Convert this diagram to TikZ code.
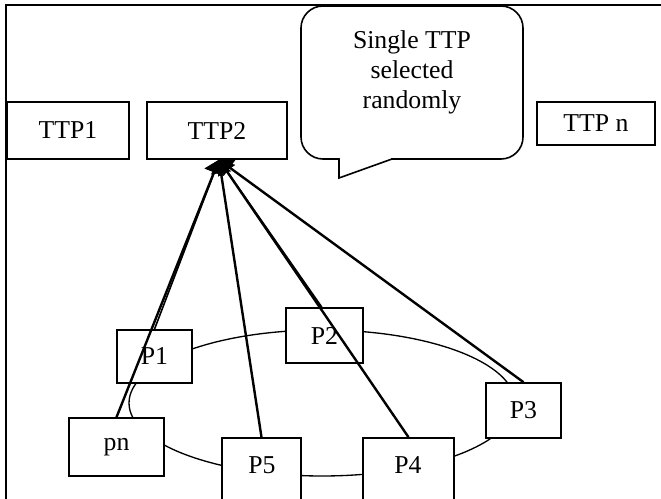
\documentclass[tikz,border=0pt]{standalone}
\usepackage{fontspec}
\setmainfont{Liberation Serif}
\usetikzlibrary{arrows.meta}
\begin{document}
\begin{tikzpicture}[x=0.75pt,y=-0.75pt,
  txt/.style={font=\fontsize{19.3}{22.5}\selectfont},
  box/.style={draw,line width=1.2pt,fill=white,inner sep=0pt,txt},
  lbl/.style={inner sep=0pt,txt},
  link/.style={line width=1.8pt,-{Triangle[length=10pt,width=15pt]}},
  ring/.style={line width=1pt}]
\useasboundingbox (0,0) rectangle (661,499);

% outer frame, running past the right and bottom edges
\draw[line width=1pt] (6,5) rectangle (700,540);

% trusted third parties
\node[box,minimum width=122*0.75pt,minimum height=57*0.75pt] (TTP1) at (68,130.5) {TTP1};
\node[box,minimum width=140*0.75pt,minimum height=57*0.75pt] (TTP2) at (217,130.5) {TTP2};
\node[box,minimum width=118*0.75pt,minimum height=43*0.75pt] (TTPn) at (596,123.5) {TTP n};

% speech bubble
\draw[line width=1.2pt,rounded corners=16.5pt] (301,6) rectangle (523,159);
\fill[white] (339,159) -- (339,178) -- (392,159) -- cycle;
\fill[white] (339.8,156.5) rectangle (391,161);
\draw[line width=1.2pt,line join=miter] (339,159) -- (339,178) -- (392,159);
\node[lbl,align=center] (note) at (412,72) {Single TTP\\selected\\randomly};

% ring of peers
\draw[ring] (322,403) ellipse [x radius=144.75pt, y radius=54.75pt];

\node[box,minimum width=75*0.75pt,minimum height=53*0.75pt] (P1) at (154.5,356.5) {P1};
\node[box,minimum width=77*0.75pt,minimum height=55*0.75pt] (P2) at (324.5,335.5) {P2};
\node[box,minimum width=75*0.75pt,minimum height=55*0.75pt] (P3) at (523.5,410.5) {P3};
\node[box,minimum width=95*0.75pt,minimum height=58*0.75pt] (pn) at (116.5,447) {pn};
\node[box,minimum width=79*0.75pt,minimum height=80*0.75pt] (P5) at (261.5,478) {};
\node[lbl] (P5t) at (262,465) {P5};
\node[box,minimum width=91*0.75pt,minimum height=80*0.75pt] (P4) at (408.5,478) {};
\node[lbl] (P4t) at (408,465) {P4};

% links from every peer to the chosen TTP
\coordinate (hub) at ([xshift=1.5pt]TTP2.south);
\draw[link] (pn.north) -- (hub);
\draw[link,line width=1.2pt] (P1.north) -- (hub);
\draw[link] (P5.north) -- (hub);
\draw[link,line width=1.2pt] ([xshift=-2pt]P2.north) -- (hub);
\draw[link] (P4.north) -- (hub);
\draw[link] (P3.north) -- (hub);
\end{tikzpicture}
\end{document}
